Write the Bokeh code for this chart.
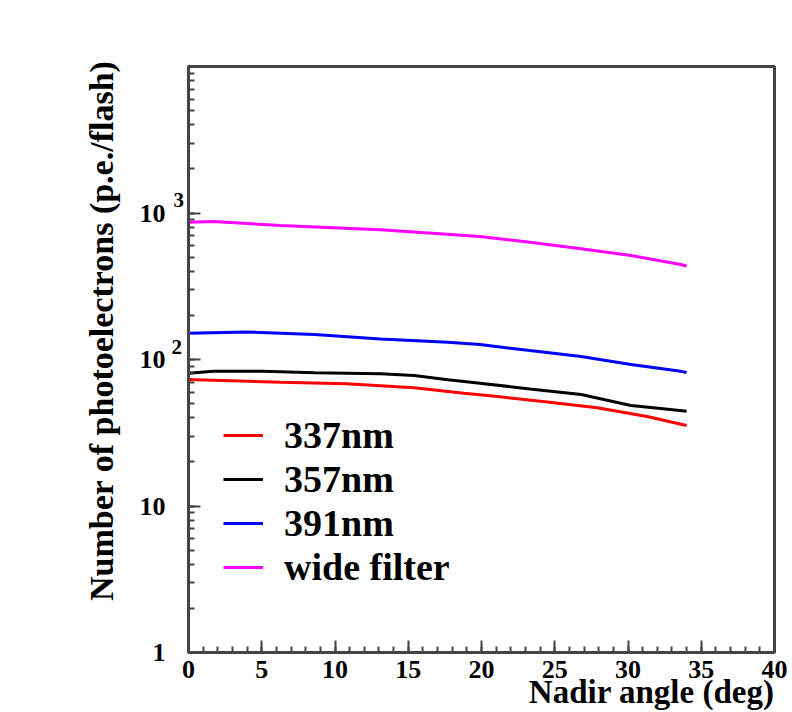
import math
from bokeh.plotting import figure
from bokeh.models import Range1d, Label, Legend, LegendItem, SingleIntervalTicker, LogTicker, Title
from bokeh.embed import file_html
from bokeh.resources import INLINE

# ---- data ----
x_337 = [0, 6.3, 10.8, 15.4, 18.8, 21.1, 24.5, 27.9, 31.3, 34]
y_337 = [73.0, 70.0, 68.2, 64.1, 58.9, 55.9, 51.2, 46.8, 40.8, 35.4]

x_357 = [0, 1.7, 5.1, 8.6, 13.1, 15.4, 17.7, 19.9, 23.3, 26.8, 30.2, 32.4, 34]
y_357 = [80.7, 83.2, 83.2, 81.1, 79.9, 77.8, 72.7, 68.9, 63.0, 57.7, 48.5, 46.1, 44.4]

x_391 = [0, 4, 8.6, 13.1, 17.7, 19.9, 23.3, 26.8, 30.2, 33.6, 34]
y_391 = [151, 154, 148, 138, 131, 126.5, 115, 105, 92.5, 83, 81.5]

x_wide = [0, 1.7, 6.3, 13.1, 19.9, 23.3, 26.8, 30.2, 33.6, 34]
y_wide = [865, 875, 822, 768, 691, 632, 570, 513, 445, 435]

series_labels = ["337nm", "357nm", "391nm", "wide filter"]
series_colors = ["#ff0000", "#000000", "#0000ff", "#ff00ff"]

y_tick_labels = {1: "1", 10: "10", 100: "10", 1000: "10", 10000: ""}
y_exponents = [(100, "2"), (1000, "3")]

x_title = "Nadir angle (deg)"
y_title = "Number of photoelectrons (p.e./flash)"

FONT = "Liberation Serif"
AX = "#444444"

p = figure(width=792, height=712, x_range=Range1d(0, 40), y_range=Range1d(1, 1e4),
           y_axis_type="log", output_backend="svg", toolbar_location=None,
           min_border_left=188, min_border_right=18, min_border_top=66, min_border_bottom=60)
p.grid.visible = False
p.outline_line_color = AX
p.outline_line_width = 3
p.background_fill_color = "white"
p.border_fill_color = "white"

renderers = []
for xs, ys, c in zip([x_337, x_357, x_391, x_wide], [y_337, y_357, y_391, y_wide], series_colors):
    renderers.append(p.line(xs, ys, line_color=c, line_width=3))

for ax in (p.xaxis[0], p.yaxis[0]):
    ax.axis_line_color = AX
    ax.axis_line_width = 3
    ax.major_tick_line_color = AX
    ax.minor_tick_line_color = AX
    ax.major_tick_line_width = 2
    ax.minor_tick_line_width = 2
    ax.major_tick_in = 12
    ax.major_tick_out = 0
    ax.minor_tick_in = 6
    ax.minor_tick_out = 0
    ax.major_label_text_font = FONT
    ax.major_label_text_font_style = "bold"
    ax.major_label_text_font_size = "26px"
    ax.major_label_text_color = "black"

p.xaxis.ticker = SingleIntervalTicker(interval=5, num_minor_ticks=5)
p.xaxis.major_label_standoff = 8
p.yaxis.ticker = LogTicker(num_minor_ticks=10)
p.yaxis.major_label_overrides = y_tick_labels
p.yaxis.major_label_standoff = 23

# exponent labels: each sits in its own stacked side panel, so the screen x
# differs per panel (second panel lies ~13 px further left)
for i, (tick, e) in enumerate(y_exponents):
    p.add_layout(Label(x=46 + 13 * i, x_units="screen", y=tick, y_units="data", y_offset=13,
                       text=e, text_align="left", text_baseline="alphabetic",
                       text_font=FONT, text_font_style="bold", text_font_size="21px",
                       text_color="black"), "left")

p.add_layout(Title(text=x_title, align="right", standoff=-18,
                   text_font=FONT, text_font_style="bold", text_font_size="33px",
                   text_color="black"), "below")
p.add_layout(Title(text=y_title, align="right", offset=-6, standoff=-10,
                   text_font=FONT, text_font_style="bold", text_font_size="34px",
                   text_color="black"), "left")

items = [LegendItem(label=l, renderers=[r]) for l, r in zip(series_labels, renderers)]
legend = Legend(items=items, location=(35, 63), glyph_width=40, glyph_height=20,
                label_standoff=21, label_height=44, spacing=0, padding=0, margin=0,
                label_text_font=FONT, label_text_font_style="bold", label_text_font_size="38px",
                label_text_color="black",
                border_line_color=None, background_fill_alpha=0)
p.add_layout(legend)

open("out.html", "w").write(file_html(p, INLINE))
